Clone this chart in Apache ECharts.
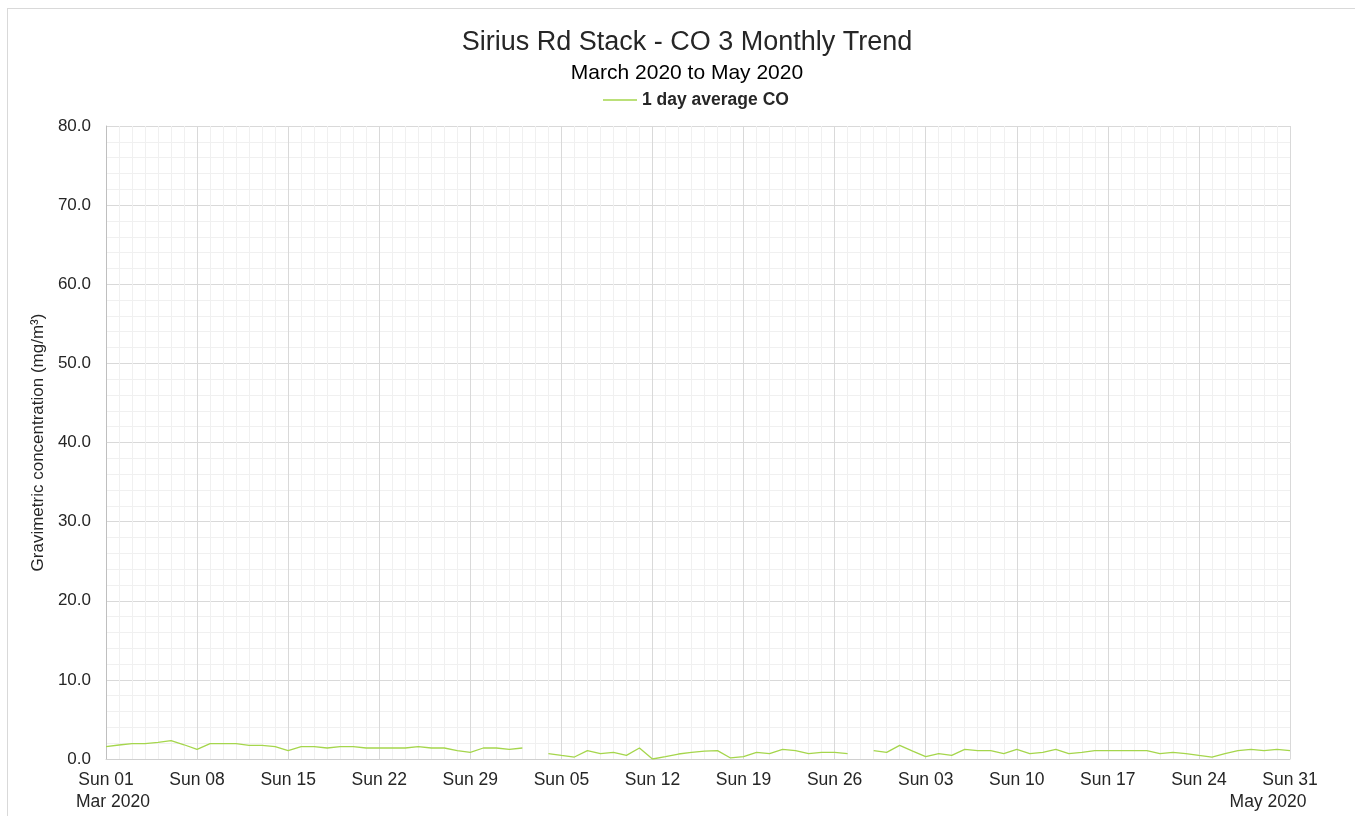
<!DOCTYPE html>
<html>
<head>
<meta charset="utf-8">
<script src="https://cdn.jsdelivr.net/npm/echarts@6/dist/echarts.min.js"></script>
<style>
  html, body { margin: 0; padding: 0; background: #fff; }
  .frame { position: absolute; left: 7px; top: 8px; width: 1400px; height: 900px; border: 1px solid #d9d9d9; }
  .echarts { position: absolute; left: 0; top: 0; width: 1355px; height: 816px; }
</style>
</head>
<body>
<div class="frame"></div>
<div id="myChart" class="echarts"></div>
<script>
// days since Sun 01 Mar 2020, one value per day up to Sun 31 May 2020 (null = no data)
const startDate = [2020, 2, 1]
const dayTicks = 7
const coValues = [
  1.56, 1.77, 1.94, 1.94, 2.1, 2.32, 1.8, 1.22, 1.94, 1.94,
  1.94, 1.73, 1.73, 1.56, 1.05, 1.56, 1.56, 1.39, 1.56, 1.56,
  1.39, 1.39, 1.39, 1.39, 1.56, 1.39, 1.39, 1.05, 0.84, 1.39,
  1.39, 1.22, 1.39, null, 0.68, 0.46, 0.25, 1.05, 0.68, 0.84,
  0.46, 1.39, 0.0, 0.3, 0.63, 0.84, 1.0, 1.05, 0.13, 0.3,
  0.84, 0.68, 1.22, 1.05, 0.68, 0.84, 0.84, 0.68, null, 1.05,
  0.84, 1.73, 1.0, 0.3, 0.68, 0.46, 1.22, 1.05, 1.05, 0.68,
  1.22, 0.68, 0.84, 1.22, 0.68, 0.84, 1.05, 1.05, 1.05, 1.05,
  1.05, 0.68, 0.84, 0.68, 0.46, 0.25, 0.68, 1.05, 1.22, 1.05,
  1.22, 1.05
]
const monthNames = ['Jan', 'Feb', 'Mar', 'Apr', 'May', 'Jun', 'Jul', 'Aug', 'Sep', 'Oct', 'Nov', 'Dec']
const dayNames = ['Sun', 'Mon', 'Tue', 'Wed', 'Thu', 'Fri', 'Sat']

const lastDay = coValues.length - 1
const seriesData = coValues.map((v, i) => [i, v])

function dayLabel (val) {
  const d = new Date(startDate[0], startDate[1], startDate[2] + val)
  const s = dayNames[d.getDay()] + ' ' + String(d.getDate()).padStart(2, '0')
  const month = monthNames[d.getMonth()] + ' ' + d.getFullYear()
  if (val === 0) return s + '\n{first|' + month + '}'
  if (val === lastDay) return s + '\n{last|' + month + '}'
  return s
}

const textFont = '"Liberation Sans", Arial, sans-serif'
const myChart = echarts.init(document.getElementById('myChart'))
myChart.setOption({
  animation: false,
  title: {
    text: 'Sirius Rd Stack - CO 3 Monthly Trend',
    subtext: 'March 2020 to May 2020',
    left: 682,
    textAlign: 'center',
    top: 24,
    itemGap: 7,
    textStyle: { fontFamily: textFont, fontSize: 27, fontWeight: 'normal', color: '#262626' },
    subtextStyle: { fontFamily: textFont, fontSize: 21, color: '#000' }
  },
  legend: {
    top: 86,
    left: 598,
    icon: 'rect',
    itemWidth: 34,
    itemHeight: 1.5,
    textStyle: { fontFamily: textFont, fontSize: 17.5, fontWeight: 'bold', color: '#262626' }
  },
  grid: { left: 106, right: 65, top: 126, bottom: 57 },
  xAxis: {
    type: 'value',
    min: 0,
    max: lastDay,
    interval: dayTicks,
    axisLine: { show: true, onZero: false, lineStyle: { color: '#d0d0d0' } },
    axisTick: { show: false },
    axisLabel: {
      fontFamily: textFont,
      fontSize: 17.5,
      color: '#262626',
      lineHeight: 22,
      margin: 10,
      formatter: dayLabel,
      rich: {
        first: { fontFamily: textFont, fontSize: 17.5, color: '#262626', lineHeight: 22, padding: [0, 0, 0, 14] },
        last: { fontFamily: textFont, fontSize: 17.5, color: '#262626', lineHeight: 22, padding: [0, 44, 0, 0] }
      }
    },
    splitLine: { show: true, lineStyle: { color: '#d9d9d9' } },
    minorTick: { show: false, splitNumber: dayTicks },
    minorSplitLine: { show: true, lineStyle: { color: '#f0f0f0' } }
  },
  yAxis: {
    type: 'value',
    min: 0,
    max: 80,
    interval: 10,
    name: 'Gravimetric concentration (mg/m³)',
    nameLocation: 'middle',
    nameGap: 54,
    nameTextStyle: { fontFamily: textFont, fontSize: 17, color: '#262626' },
    axisLine: { show: true, lineStyle: { color: '#bfbfbf' } },
    axisTick: { show: false },
    axisLabel: {
      fontFamily: textFont,
      fontSize: 17,
      color: '#262626',
      margin: 15,
      formatter: v => v.toFixed(1)
    },
    splitLine: { show: true, lineStyle: { color: '#d9d9d9' } },
    minorTick: { show: false, splitNumber: 5 },
    minorSplitLine: { show: true, lineStyle: { color: '#f0f0f0' } }
  },
  series: [{
    name: '1 day average CO',
    type: 'line',
    data: seriesData,
    showSymbol: false,
    symbol: 'none',
    connectNulls: false,
    lineStyle: { color: '#a5d64c', width: 1.3 },
    itemStyle: { color: '#a5d64c' }
  }]
})
</script>
</body>
</html>
